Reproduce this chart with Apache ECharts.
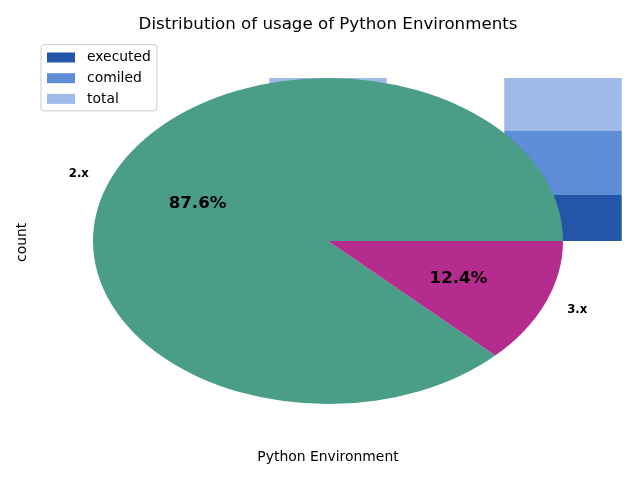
<!DOCTYPE html>
<html><head><meta charset="utf-8">
<script src="https://cdn.jsdelivr.net/npm/echarts@6/dist/echarts.min.js"></script>
<style>html,body{margin:0;padding:0;background:#fff}#c{width:640px;height:480px}</style>
</head><body><div id="c"></div>
<script>
// ---- data ----
var categories = ['2.x', '3.x'];
var executed = [0.30, 0.282];
var comiled = [0.35, 0.393];
var total = [0.35, 0.325];
var pieLabels = ['2.x', '3.x'];
var pieValues = [87.6, 12.4];
var pieColors = ['#4a9e87', '#b42d8e'];
var barColors = ['#2356a8', '#5e8cd7', '#9fbae9'];

var FONT = 'DejaVu Sans';
var chart = echarts.init(document.getElementById('c'), null, {renderer: 'canvas'});

var pieSum = pieValues.reduce(function (a, b) { return a + b; }, 0);
var pieData = pieValues.map(function (v, i) { return [0, 0, v, pieLabels[i]]; });

function renderPie(params, api) {
  var i = params.dataIndex;
  var c = api.coord([0, 0]);
  var rx = api.size([1, 0])[0];
  var ry = api.size([0, 1])[1];
  var before = 0;
  for (var k = 0; k < i; k++) before += pieValues[k];
  var t1 = before / pieSum * 2 * Math.PI;
  var t2 = (before + pieValues[i]) / pieSum * 2 * Math.PI;
  var mid = (t1 + t2) / 2;
  var pct = (pieValues[i] / pieSum * 100).toFixed(1) + '%';
  var lx = c[0] + 1.1 * rx * Math.cos(mid);
  var ly = c[1] - 1.1 * ry * Math.sin(mid);
  var px = c[0] + 0.6 * rx * Math.cos(mid);
  var py = c[1] - 0.6 * ry * Math.sin(mid);
  return {
    type: 'group',
    children: [
      {
        type: 'sector',
        x: c[0], y: c[1], scaleX: 1, scaleY: ry / rx,
        shape: {cx: 0, cy: 0, r0: 0, r: rx, startAngle: -t2, endAngle: -t1, clockwise: true},
        style: {fill: pieColors[i]}
      },
      {
        type: 'text', x: lx, y: ly + 1, z2: 10,
        style: {text: pieLabels[i], fill: '#000', fontFamily: FONT, fontWeight: 'bold', fontSize: 11.7,
          align: Math.cos(mid) < 0 ? 'right' : 'left', verticalAlign: 'middle'}
      },
      {
        type: 'text', x: px, y: py, z2: 10,
        style: {text: pct, fill: '#000', fontFamily: FONT, fontWeight: 'bold', fontSize: 16.67,
          align: 'center', verticalAlign: 'middle'}
      }
    ]
  };
}

var yRange = {min: -1.142, max: 1.125};
var hidden = {axisLine: {show: false}, axisTick: {show: false}, axisLabel: {show: false}, splitLine: {show: false}};

chart.setOption({
  animation: false,
  backgroundColor: '#fff',
  textStyle: {fontFamily: FONT},
  title: {
    text: 'Distribution of usage of Python Environments',
    left: 328, top: 16, textAlign: 'center', padding: 0,
    textStyle: {fontFamily: FONT, fontSize: 16.67, fontWeight: 'normal', color: '#000'}
  },
  legend: {
    orient: 'vertical', left: 41, top: 44.5,
    data: ['executed', 'comiled', 'total'],
    icon: 'rect', itemWidth: 28, itemHeight: 10, itemGap: 6.7,
    padding: [6, 6, 5, 6],
    backgroundColor: 'rgba(255,255,255,0.8)', borderColor: '#cccccc', borderWidth: 1, borderRadius: 3,
    textStyle: {fontFamily: FONT, fontSize: 13.9, color: '#000', padding: [0, 0, 0, 7]}
  },
  grid: [
    {left: 80, right: 64, top: 57.6, bottom: 52.8, containLabel: false},
    // bar grid: category centres fall on the axis ends (boundaryGap false)
    {left: 328, right: 77, top: 57.6, bottom: 52.8, containLabel: false}
  ],
  xAxis: [
    Object.assign({
      type: 'value', gridIndex: 0, min: -1.0553, max: 1.0553,
      name: 'Python Environment', nameLocation: 'middle', nameGap: 23,
      nameTextStyle: {fontFamily: FONT, fontSize: 13.9, color: '#000'}
    }, hidden),
    Object.assign({type: 'category', gridIndex: 1, data: categories, boundaryGap: false}, hidden)
  ],
  yAxis: [
    Object.assign({
      type: 'value', gridIndex: 0, min: yRange.min, max: yRange.max,
      name: 'count', nameLocation: 'middle', nameGap: 51,
      nameTextStyle: {fontFamily: FONT, fontSize: 13.9, color: '#000'}
    }, hidden),
    Object.assign({type: 'value', gridIndex: 1, min: yRange.min, max: yRange.max}, hidden)
  ],
  series: [
    {name: 'executed', type: 'bar', stack: 's', xAxisIndex: 1, yAxisIndex: 1, data: executed, barWidth: '50%', clip: false, itemStyle: {color: barColors[0]}, z: 1},
    {name: 'comiled', type: 'bar', stack: 's', xAxisIndex: 1, yAxisIndex: 1, data: comiled, barWidth: '50%', clip: false, itemStyle: {color: barColors[1]}, z: 1},
    {name: 'total', type: 'bar', stack: 's', xAxisIndex: 1, yAxisIndex: 1, data: total, barWidth: '50%', clip: false, itemStyle: {color: barColors[2]}, z: 1},
    {name: 'pie', type: 'custom', xAxisIndex: 0, yAxisIndex: 0, renderItem: renderPie, data: pieData, encode: {x: 0, y: 1}, clip: false, z: 5}
  ]
});
</script>
</body></html>
